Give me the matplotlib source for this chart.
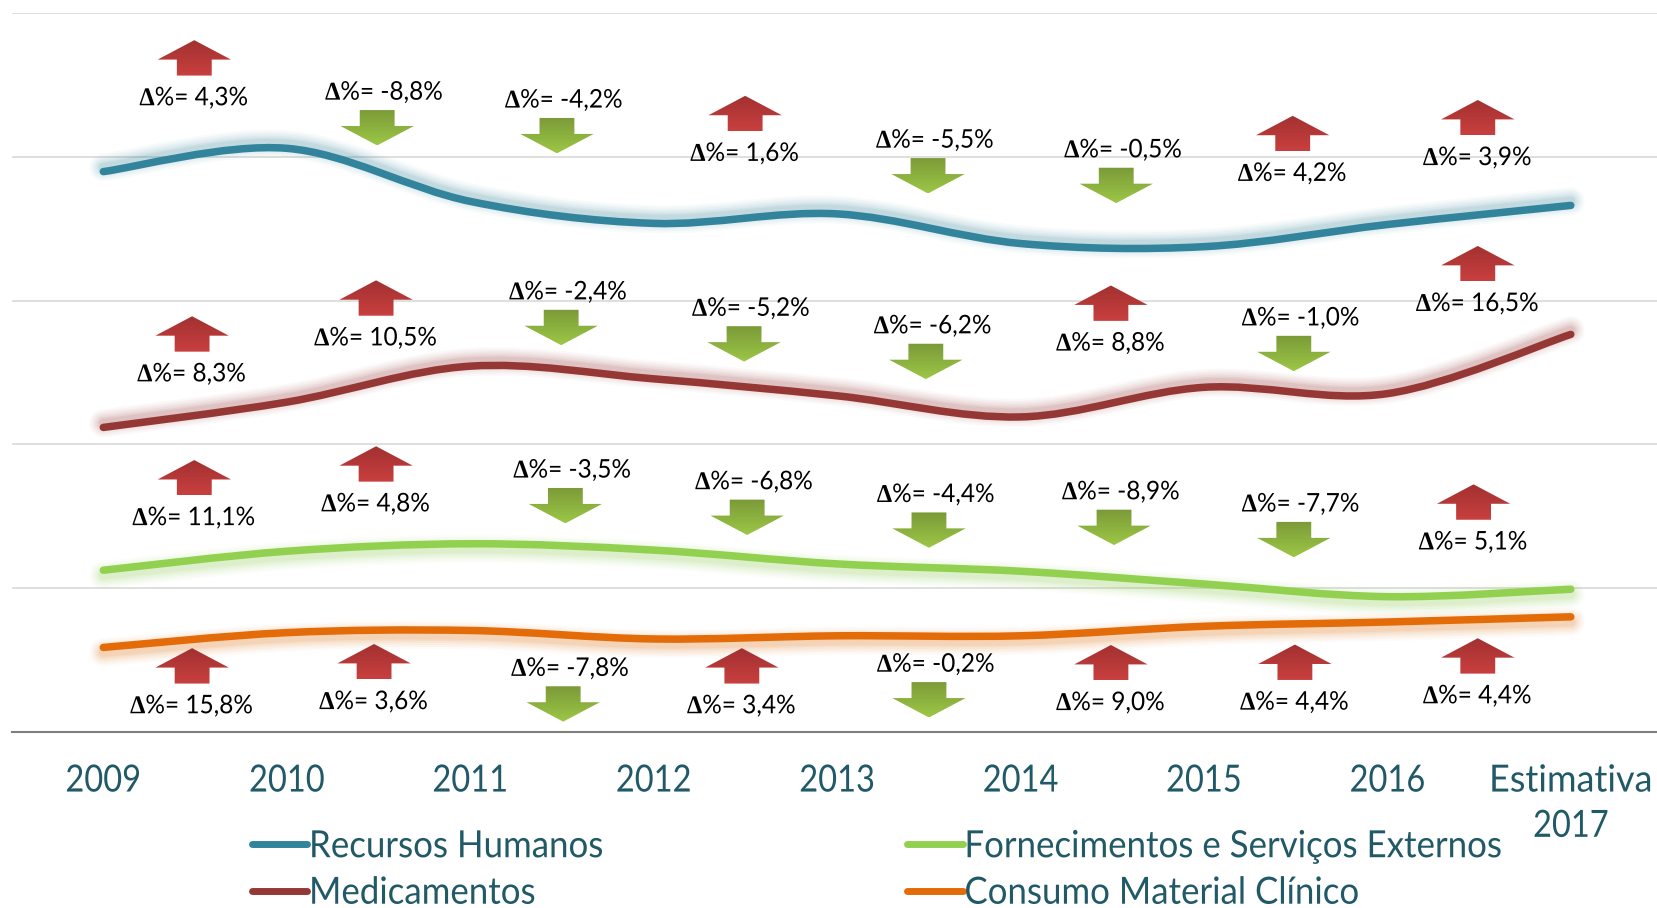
import numpy as np
import matplotlib
matplotlib.use("Agg")
import matplotlib.pyplot as plt
import matplotlib.patheffects as pe
from matplotlib.lines import Line2D
from matplotlib.patches import PathPatch, Polygon
from matplotlib.path import Path
from matplotlib.transforms import Affine2D

plt.rcParams['font.family'] = ['Lato', 'DejaVu Sans']
plt.rcParams['mathtext.fontset'] = 'custom'
plt.rcParams['mathtext.bf'] = 'Liberation Serif:bold'

anos = ['2009', '2010', '2011', '2012', '2013', '2014', '2015', '2016', 'Estimativa\n2017']

recursos_humanos = [389.7, 405.9, 369.0, 353.7, 360.3, 339.7, 337.5, 352.9, 366.2]
medicamentos = [211.8, 229.4, 254.4, 245.6, 233.8, 219.1, 239.7, 235.3, 276.5]
fornecimentos = [112.5, 125.7, 130.9, 126.5, 116.9, 111.8, 102.9, 94.1, 99.3]
consumo = [58.8, 69.1, 70.6, 64.7, 66.9, 66.9, 73.5, 76.5, 80.1]

# variacao anual, como escrita no grafico
delta_rh = [4.3, -8.8, -4.2, 1.6, -5.5, -0.5, 4.2, 3.9]
delta_med = [8.3, 10.5, -2.4, -5.2, -6.2, 8.8, -1.0, 16.5]
delta_fse = [11.1, 4.8, -3.5, -6.8, -4.4, -8.9, -7.7, 5.1]
delta_cmc = [15.8, 3.6, -7.8, 3.4, -0.2, 9.0, 4.4, 4.4]

# onde ficam as setas (categoria, valor do centro)
seta_x_rh = [.496, 1.493, 2.473, 3.499, 4.496, 5.522, 6.484, 7.493]
seta_y_rh = [468.8, 420.2, 414.7, 430.1, 386.8, 380.1, 416.2, 427.2]
seta_x_med = [.484, 1.487, 2.496, 3.493, 4.484, 5.493, 6.49, 7.493]
seta_y_med = [276.8, 301.8, 281.3, 269.9, 257.7, 298.2, 263.2, 325.7]
seta_x_fse = [.496, 1.487, 2.519, 3.51, 4.501, 5.51, 6.49, 7.47]
seta_y_fse = [176.8, 186.4, 157.4, 149.3, 140.4, 142.3, 133.8, 159.9]
seta_x_cmc = [.484, 1.476, 2.507, 3.481, 4.501, 5.493, 6.496, 7.493]
seta_y_cmc = [46.0, 48.9, 19.5, 46.0, 22.4, 48.2, 48.5, 52.9]

TEAL = '#215967'


class Squeeze(pe.AbstractPathEffect):
    # aperta o texto na horizontal, a fonte original e mais estreita
    def __init__(self, sx, center=True, sx_long=None):
        self.sx = sx
        self.center = center
        self.sx_long = sx_long

    def draw_path(self, renderer, gc, tpath, affine, rgbFace=None):
        ext = tpath.get_extents()
        sx = self.sx
        if self.sx_long and ext.width > 4.5 * ext.height:
            sx = self.sx_long
        cx = (ext.x0 + ext.x1) / 2 if self.center else 0
        t = Affine2D().translate(-cx, 0).scale(sx, 1).translate(cx, 0) + affine
        renderer.draw_path(gc, tpath, t, rgbFace)


def smooth_path(y):
    # bezier estilo Excel a passar pelos pontos
    p = np.column_stack([np.arange(len(y)), y]).astype(float)
    verts = [p[0]]
    codes = [Path.MOVETO]
    for i in range(len(p) - 1):
        a = p[max(i - 1, 0)]
        b = p[i]
        c = p[i + 1]
        d = p[min(i + 2, len(p) - 1)]
        verts += [b + (c - a) / 6, c - (d - b) / 6, c]
        codes += [Path.CURVE4, Path.CURVE4, Path.CURVE4]
    return Path(verts, codes)


def draw_serie(ax, y, color, off):
    glow = []
    for w, a in zip([28, 24, 20, 16, 12, 9], [.03, .04, .05, .06, .07, .08]):
        glow.append(pe.Stroke(linewidth=w * .72, foreground=color, alpha=a, offset=(0, off)))
    glow.append(pe.Normal())
    ax.add_patch(PathPatch(smooth_path(y), fill=False, ec=color, lw=5.4, capstyle='round',
                           path_effects=glow, zorder=3))


def draw_seta(ax, x, y, d):
    w, sw, h, hh = .2, .095, 12.3, 13.5
    if d >= 0:
        pts = [(x, y + h), (x + w, y + h - hh), (x + sw, y + h - hh), (x + sw, y - h),
               (x - sw, y - h), (x - sw, y + h - hh), (x - w, y + h - hh)]
        cols = ['#A23130', '#C93F3F']
    else:
        pts = [(x, y - h), (x + w, y - h + hh), (x + sw, y - h + hh), (x + sw, y + h),
               (x - sw, y + h), (x - sw, y - h + hh), (x - w, y - h + hh)]
        cols = ['#7A9A38', '#9DC746']
    c0 = np.array(matplotlib.colors.to_rgb(cols[0]))
    c1 = np.array(matplotlib.colors.to_rgb(cols[1]))
    grad = np.linspace(0, 1, 40)[:, None, None] * (c1 - c0) + c0
    im = ax.imshow(grad, extent=[x - w, x + w, y - h, y + h], aspect='auto', origin='upper', zorder=4)
    poly = Polygon(pts, closed=True, transform=ax.transData, fc='none', ec='none')
    ax.add_patch(poly)
    im.set_clip_path(poly)


def draw_delta(ax, xs, ys, ds):
    for x, y, d in zip(xs, ys, ds):
        draw_seta(ax, x, y, d)
        txt = r'$\mathbf{\Delta}$%= ' + f'{d:.1f}'.replace('.', ',') + '%'
        if d >= 0:
            tx, ty = x, y - 27.5
        else:
            tx, ty = x + .04, y + 25
        ax.text(tx, ty, txt, ha='center', va='center', fontsize=18.5, color='black', zorder=5,
                path_effects=[Squeeze(.95)])


fig = plt.figure(figsize=(16.57, 9.08), dpi=100)
ax = fig.add_axes([11.6 / 1657, (908 - 732) / 908, (1657 - 11.6) / 1657, (732 - 13) / 908])

ax.set_axisbelow(True)
ax.grid(axis='y', color='#D9D9D9', lw=1.2)
ax.grid(axis='x', visible=False)
for s in ['top', 'left', 'right']:
    ax.spines[s].set_visible(False)
ax.spines['bottom'].set_color('#7F7F7F')
ax.spines['bottom'].set_linewidth(1.5)

draw_serie(ax, recursos_humanos, '#31849B', 3)
draw_serie(ax, medicamentos, '#953735', 3)
draw_serie(ax, fornecimentos, '#92D050', -3.5)
draw_serie(ax, consumo, '#E36C09', -3.5)

draw_delta(ax, seta_x_rh, seta_y_rh, delta_rh)
draw_delta(ax, seta_x_med, seta_y_med, delta_med)
draw_delta(ax, seta_x_fse, seta_y_fse, delta_fse)
draw_delta(ax, seta_x_cmc, seta_y_cmc, delta_cmc)

ax.set_xlim(-.5, 8.47)
ax.set_ylim(0, 500)
ax.set_yticks([0, 100, 200, 300, 400, 500])
ax.tick_params(axis='y', left=False, labelleft=False)
ax.set_xticks(range(len(anos)))
ax.set_xticklabels(anos, fontsize=27, color=TEAL, linespacing=1.32)
ax.tick_params(axis='x', length=0, pad=22)
for t in ax.get_xticklabels():
    t.set_path_effects([Squeeze(.87, sx_long=.96)])

handles = [Line2D([], [], color='#31849B', lw=5, solid_capstyle='round'),
           Line2D([], [], color='#953735', lw=5, solid_capstyle='round'),
           Line2D([], [], color='#92D050', lw=5, solid_capstyle='round'),
           Line2D([], [], color='#E36C09', lw=5, solid_capstyle='round')]
nomes = ['Recursos Humanos', 'Medicamentos', 'Fornecimentos e Serviços Externos', 'Consumo Material Clínico']
leg = fig.legend(handles, nomes, ncol=2, frameon=False,
                 loc='lower left', bbox_to_anchor=(252 / 1657, -.003),
                 handlelength=1.47, handletextpad=.05, columnspacing=7.5, labelspacing=.28,
                 borderpad=0, borderaxespad=0, prop={'size': 27})
for t in leg.get_texts():
    t.set_color(TEAL)
    t.set_path_effects([Squeeze(.93, center=False)])

fig.savefig('out.png', dpi=100)
